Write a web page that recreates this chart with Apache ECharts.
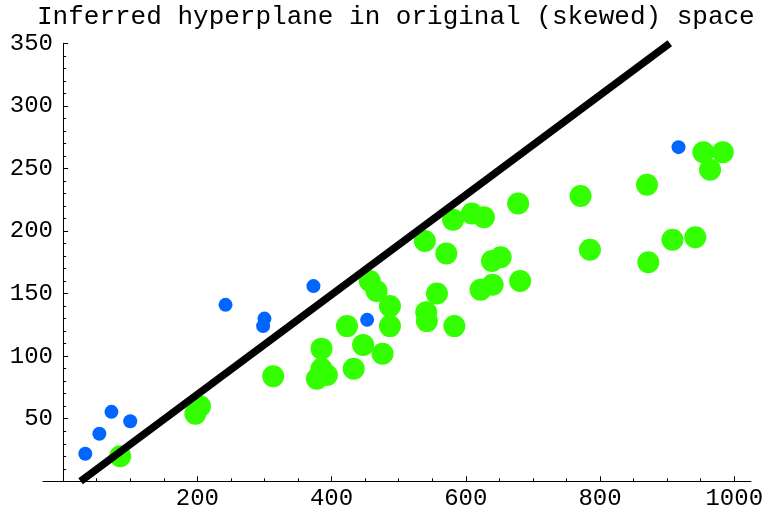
<!DOCTYPE html>
<html>
<head>
<meta charset="utf-8">
<script src="https://cdn.jsdelivr.net/npm/echarts@6/dist/echarts.min.js"></script>
<style>
  html, body { margin: 0; padding: 0; background: #fff; }
  #chart { width: 765px; height: 511px; }
</style>
</head>
<body>
<div id="chart"></div>
<script>
// Points on the positive side of the hyperplane (small blue dots)
const blueX = [33, 54, 72, 100, 242, 300, 298, 373, 453, 917];
const blueY = [22, 38, 55.5, 48, 141, 130, 124, 156, 129, 267];

// Points on the negative side (large green dots)
const greenX = [85, 197, 204, 313, 378, 385, 393, 385, 433, 423, 447, 476, 457, 467, 487, 487,
                539, 571, 581, 609, 627, 541, 542, 557, 583, 622, 640, 639, 652, 681, 678,
                771, 785, 870, 872, 908, 942, 954, 983, 964];
const greenY = [20, 54, 60, 84, 82, 90, 85, 106, 90, 124, 109, 102, 160, 152, 140, 124,
                192, 182, 209, 214, 211, 135, 128, 150, 124, 153, 157, 176, 179, 160, 222,
                228, 185, 237, 175, 193, 195, 263, 263, 249];

// Inferred separating line, given by its two ends in data units
const lineX = [26, 904];
const lineY = [0, 350];

// Tick positions
const xMajorTicks = [200, 400, 600, 800, 1000];
const xMinorTicks = [50, 100, 150, 250, 300, 350, 450, 500, 550, 650, 700, 750, 850, 900, 950];

const pairs = (xs, ys) => xs.map((x, i) => [x, ys[i]]);

const labelFont = { fontFamily: 'Liberation Mono', fontSize: 24, color: '#000' };
const plainNumber = (v) => String(v);

const chart = echarts.init(document.getElementById('chart'));
chart.setOption({
  animation: false,
  backgroundColor: '#fff',
  title: {
    text: 'Inferred hyperplane in original (skewed) space',
    left: 37,
    top: 4,
    padding: 0,
    textStyle: { fontFamily: 'Liberation Mono', fontSize: 26, fontWeight: 'normal', color: '#000', lineHeight: 26 }
  },
  grid: { left: 43, right: 14, top: 43.3, bottom: 29.7, containLabel: false, outerBoundsMode: 'none' },
  xAxis: [
    {
      type: 'value', min: -30, max: 1025, position: 'bottom',
      axisLine: { show: true, onZero: true, lineStyle: { color: '#000', width: 1 } },
      axisTick: { show: true, inside: true, length: 5, customValues: xMajorTicks, lineStyle: { color: '#000' } },
      axisLabel: { show: true, margin: 5, customValues: xMajorTicks, formatter: plainNumber, hideOverlap: false, ...labelFont },
      splitLine: { show: false }
    },
    {
      type: 'value', min: -30, max: 1025, position: 'bottom',
      axisLine: { show: false },
      axisTick: { show: true, inside: true, length: 3, customValues: xMinorTicks, lineStyle: { color: '#000' } },
      axisLabel: { show: false },
      splitLine: { show: false }
    }
  ],
  yAxis: {
    type: 'value', min: 0, max: 350, interval: 50,
    axisLine: { show: true, onZero: true, onZeroAxisIndex: 0, lineStyle: { color: '#000', width: 1 } },
    axisTick: { show: true, inside: true, length: 5, lineStyle: { color: '#000' } },
    minorTick: { show: true, splitNumber: 5, length: 3, lineStyle: { color: '#000' } },
    axisLabel: { show: true, margin: -10, showMinLabel: false, formatter: plainNumber, ...labelFont },
    splitLine: { show: false },
    minorSplitLine: { show: false }
  },
  series: [
    {
      type: 'scatter', xAxisIndex: 0, data: pairs(blueX, blueY),
      symbol: 'circle', symbolSize: 14,
      itemStyle: { color: '#0066ff', opacity: 1 }
    },
    {
      type: 'scatter', xAxisIndex: 0, data: pairs(greenX, greenY),
      symbol: 'circle', symbolSize: 22,
      itemStyle: { color: '#33ff00', opacity: 1 }
    },
    {
      type: 'line', xAxisIndex: 0, data: pairs(lineX, lineY),
      symbol: 'none', clip: true,
      lineStyle: { color: '#000', width: 7.5, cap: 'butt' }
    }
  ]
});
</script>
</body>
</html>
